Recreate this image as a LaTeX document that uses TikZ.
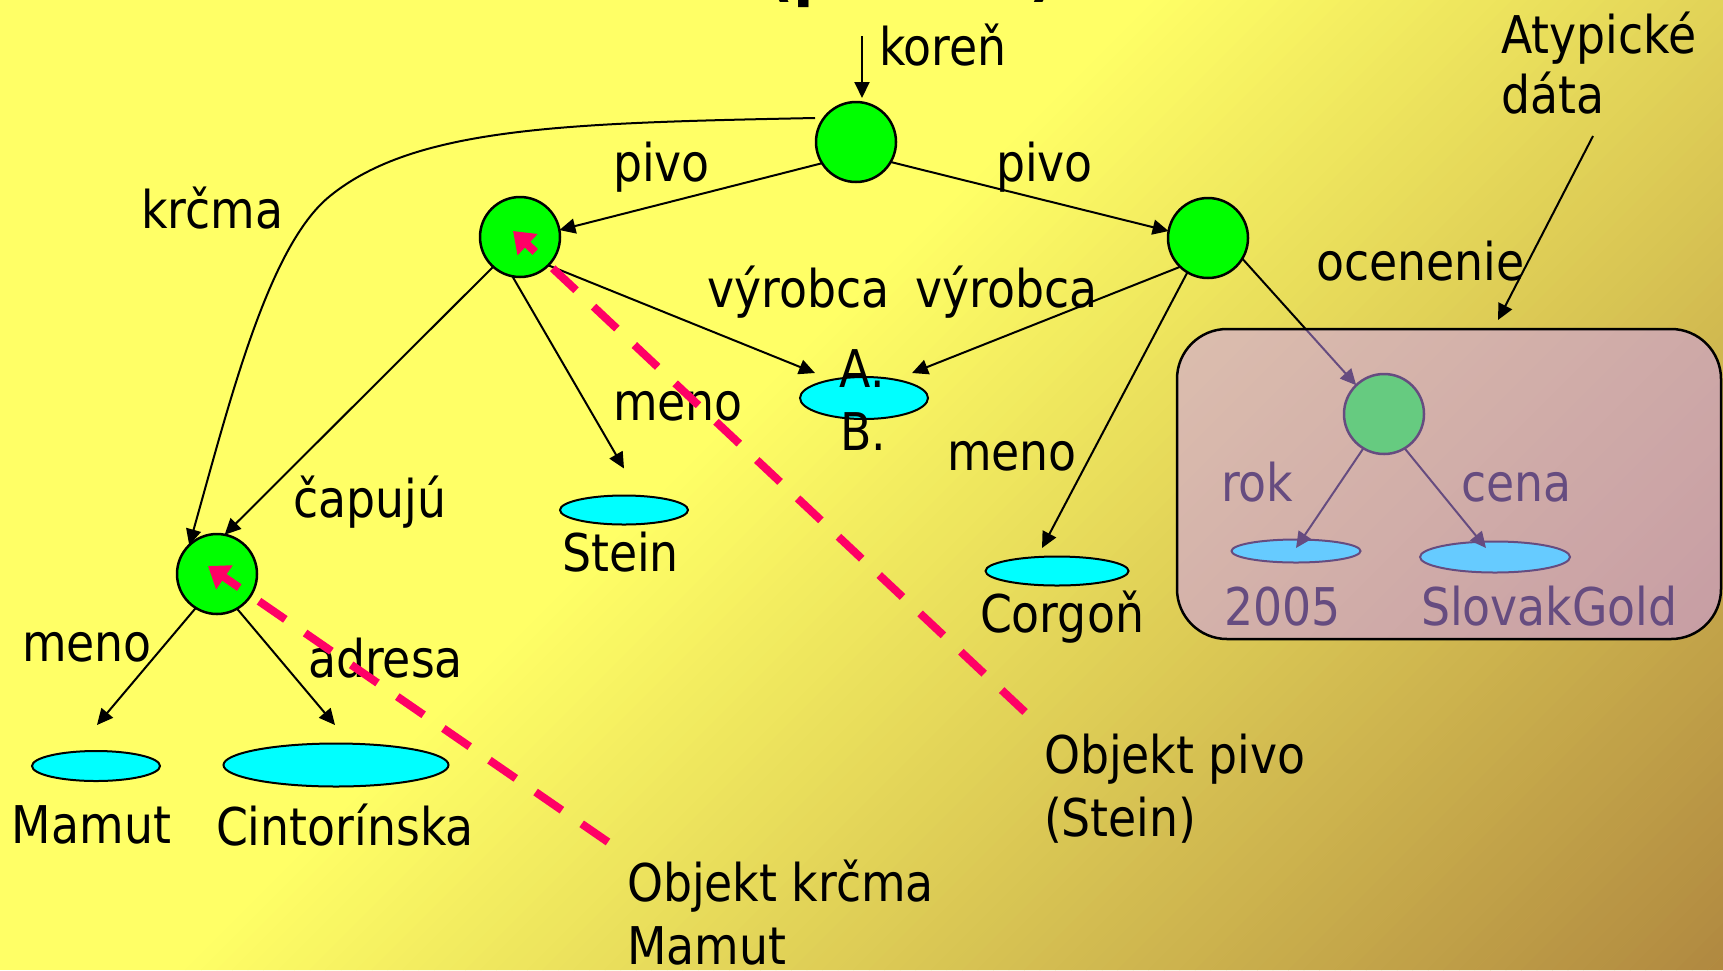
\documentclass[tikz,border=0pt]{standalone}
\usepackage{fontspec}
\setmainfont{DejaVu Sans}[FakeStretch=0.88]
\usetikzlibrary{arrows.meta,shapes.geometric,calc}

\definecolor{bgyellow}{HTML}{FFFF66}
\definecolor{bgbrown}{HTML}{B08840}
\definecolor{nodegreen}{HTML}{00FF00}
\definecolor{leafcyan}{HTML}{00FFFF}
\definecolor{objpink}{HTML}{FF0066}
\definecolor{boxlilac}{HTML}{CC99FF}

\tikzset{
  obj/.style={circle, draw=black, line width=2.5pt, fill=nodegreen,
              minimum size=80pt, inner sep=0pt, outer sep=0pt},
  val/.style={ellipse, draw=black, line width=2pt, fill=leafcyan,
              inner sep=0pt, outer sep=0pt},
  lbl/.style={anchor=base west, inner sep=0pt, outer sep=0pt,
              font=\fontsize{52}{62}\selectfont},
  lblc/.style={lbl, anchor=base},
  link/.style={draw=black, line width=2pt,
               -{Triangle[length=16pt,width=15pt]}},
  ptr/.style={draw=objpink, line width=8pt,
              dash pattern=on 32pt off 24pt,
              -{Triangle[length=20pt,width=28pt]}},
}

\begin{document}
\begin{tikzpicture}[x=1pt,y=-1pt]
\useasboundingbox (0,0) rectangle (1723,970);

% diagonal yellow-to-brown background
\fill[bgyellow] (0,0) rectangle (1723,970);
\begin{scope}
  \clip (0,0) rectangle (1723,970);
  \foreach \i in {0,...,99} {
    \pgfmathsetmacro{\ca}{1140+15.53*\i}
    \pgfmathsetmacro{\cb}{\ca+16.2}
    \fill[bgbrown!\i!bgyellow] (\ca,0) -- (\cb,0) -- (\cb-970,970) -- (\ca-970,970) -- cycle;
  }
\end{scope}

% slide heading (only its lower edge lies on the page)
\begin{scope}
  \clip (0,0) rectangle (1723,970);
  \node[anchor=base west, inner sep=0pt,
        font=\fontsize{68}{80}\selectfont\bfseries] (title) at (766,-7) {(príklad)};
\end{scope}

% object nodes
\node[obj] (root)  at (856,142) {};
\node[obj] (lp)    at (520,237) {};
\node[obj] (rp)    at (1208,238) {};
\node[obj] (krcma) at (217,574) {};
\node[obj] (award) at (1384,414) {};

% atomic values
\node[val, minimum width=128pt, minimum height=42pt] (ab)    at (864,398) {};
\node[val, minimum width=128pt, minimum height=29pt] (stein) at (624,510) {};
\node[val, minimum width=143pt, minimum height=29pt] (corg)  at (1057,571) {};
\node[val, minimum width=128pt, minimum height=30pt] (mamut) at (96,766) {};
\node[val, minimum width=225pt, minimum height=43pt] (cint)  at (336,765) {};
\node[val, minimum width=129pt, minimum height=23pt] (yr)    at (1296,551) {};
\node[val, minimum width=150pt, minimum height=31pt] (gold)  at (1495,557) {};

% labels
\node[lbl] (lkoren) at (879,65)  {koreň};
\node[lbl] (lkrcma) at (141,228) {krčma};
\node[lbl] (lpivoL) at (613,181) {pivo};
\node[lbl] (lpivoR) at (996,181) {pivo};
\node[lbl] (lvyrL)  at (707,307) {výrobca};
\node[lbl] (lvyrR)  at (915,307) {výrobca};
\node[lbl] (locen)  at (1316,280) {ocenenie};
\node[lbl] (latyp)  at (1501,53) {Atypické};
\node[lbl] (ldata)  at (1501,113) {dáta};
\node[lbl] (lmenoS) at (613,420) {meno};
\node[lblc] (lA)    at (862,387) {A.};
\node[lblc] (lB)    at (863,450) {B.};
\node[lbl] (lmenoC) at (947,470) {meno};
\node[lbl] (lcap)   at (293,517) {čapujú};
\node[lbl] (lstein) at (562,571) {Stein};
\node[lbl] (lcorg)  at (980,632) {Corgoň};
\node[lbl] (lmenoM) at (22,661)  {meno};
\node[lbl] (ladr)   at (308,677) {adresa};
\node[lbl] (lmamut) at (12,843)  {Mamut};
\node[lbl] (lcint)  at (216,845) {Cintorínska};
\node[lbl] (lrok)   at (1221,501) {rok};
\node[lbl] (lcena)  at (1461,501) {cena};
\node[lbl] (lyr)    at (1224,625) {2005};
\node[lbl] (lgold)  at (1421,625) {SlovakGold};
\node[lbl] (lop1)   at (1044,773) {Objekt pivo};
\node[lbl] (lop2)   at (1044,836) {(Stein)};
\node[lbl] (lok1)   at (627,901) {Objekt krčma};
\node[lbl] (lok2)   at (627,964) {Mamut};

% free ends
\coordinate (korTop)   at (862,36);
\coordinate (atypFrom) at (1593,136);
\coordinate (atypTo)   at (1498,320);
\coordinate (pivoPtr)  at (1025,712);
\coordinate (krcmaPtr) at (608,842);

% edges of the tree
\draw[link] (korTop) -- ++(0,62);
\draw[link] (root.212) -- (lp.10);
\draw[link] (root.-30) -- (rp.170);
\draw[link] ($(root)+(-41,-24)$) .. controls (565,123) and (415,127) .. (330,196)
            .. controls (268,246) and (229.5,402.5) .. (krcma.134);
\draw[link] (lp.228) -- (krcma.79);
\draw[link] (lp.259) -- ($(stein.north)+(0,-27)$);
\draw[link] (lp.-45) -- ($(ab.north)+(-49,-4)$);
\draw[link] (rp.226) -- ($(ab.north)+(48,-4)$);
\draw[link] (rp.239) -- ($(corg.north)+(-15,-8.5)$);
\draw[link] (rp.-31) -- (award.134);
\draw[link] (award.239) -- ($(yr.north)+(0,8.5)$);
\draw[link] (award.-59) -- ($(gold.north)+(-9,6.5)$);
\draw[link] (krcma.238) -- ($(mamut.north)+(1,-26)$);
\draw[link] (krcma.-60) -- ($(cint.north)+(-1,-18.5)$);
\draw[link] (atypFrom) -- (atypTo);

% object pointers
\draw[ptr] (pivoPtr) -- ($(lp)+(-7,-6)$);
\draw[ptr] (krcmaPtr) -- ($(krcma)+(-9,-8)$);

% translucent frame around the atypical data
\draw[line width=2.5pt, fill=boxlilac, fill opacity=0.5, rounded corners=50pt]
  (1177,329) rectangle (1721,639);
\end{tikzpicture}
\end{document}
